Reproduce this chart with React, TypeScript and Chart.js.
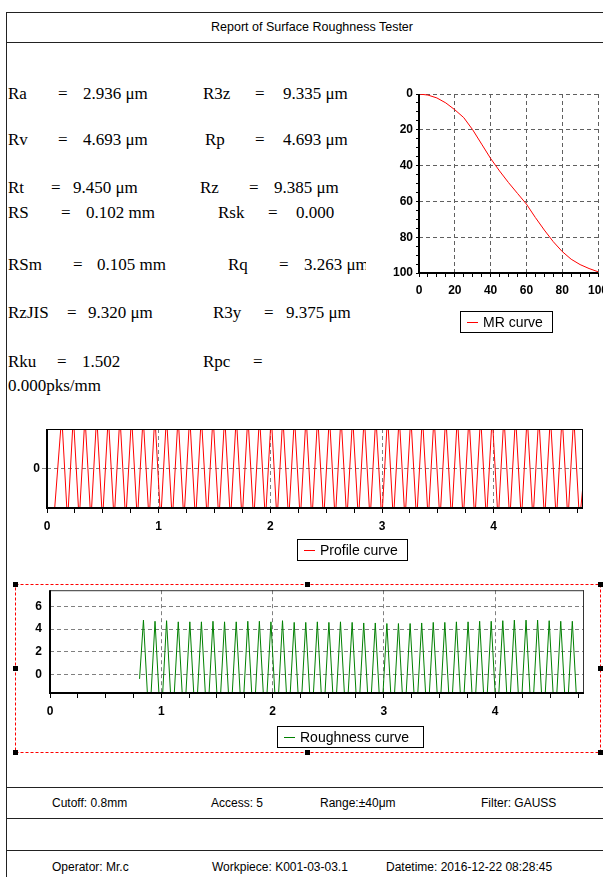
import React, { useEffect, useRef } from "react";
import { Chart, registerables } from "chart.js";

Chart.register(...registerables);
Chart.defaults.font.family = '"Liberation Sans", Arial, sans-serif';

// ---------------- data ----------------
// MR curve: material ratio (%) vs depth (%)
const mrRatio = [0, 5, 10, 15, 20, 25, 30, 35, 40, 45, 50, 55, 60, 65, 70, 75, 80, 85, 90, 95, 100];
const mrDepth = [0, 0.6, 2.2, 5, 8.8, 13.2, 20, 28, 36, 43, 49.5, 55.5, 61.5, 69, 76, 82.5, 88, 92.3, 95.3, 97.5, 99.3];
const mrTicks = [0, 5, 10, 15, 20, 25, 30, 35, 40, 45, 50, 55, 60, 65, 70, 75, 80, 85, 90, 95, 100];
const mrLabels = [0, 20, 40, 60, 80, 100];

// Profile curve (mm, µm) - turning points
const profileX = [0, 0.06, 0.132, 0.184, 0.236, 0.288, 0.340, 0.393, 0.445, 0.497, 0.549, 0.601, 0.653, 0.705, 0.757, 0.809, 0.861, 0.914, 0.966, 1.018, 1.070, 1.122, 1.174, 1.226, 1.278, 1.330, 1.382, 1.435, 1.487, 1.539, 1.591, 1.643, 1.695, 1.747, 1.799, 1.851, 1.903, 1.956, 2.008, 2.060, 2.112, 2.164, 2.216, 2.268, 2.320, 2.372, 2.424, 2.477, 2.529, 2.581, 2.633, 2.685, 2.737, 2.789, 2.841, 2.893, 2.945, 2.998, 3.050, 3.102, 3.154, 3.206, 3.258, 3.310, 3.362, 3.414, 3.466, 3.519, 3.571, 3.623, 3.675, 3.727, 3.779, 3.831, 3.883, 3.935, 3.987, 4.040, 4.092, 4.144, 4.196, 4.248, 4.300, 4.352, 4.404, 4.456, 4.508, 4.561, 4.613, 4.665, 4.717, 4.769, 4.8];
const profileY = [-6.0, -6.0,
  6.00, -6.05, 6.02, -6.00, 5.98, -6.02, 6.05, -6.00, 6.00, -5.98,
  6.02, -6.04, 6.00, -6.00, 5.96, -6.02, 6.04, -6.00, 6.00, -6.02,
  5.98, -6.00, 6.02, -6.05, 6.00, -6.00, 6.05, -5.98, 6.00, -6.02,
  5.98, -6.00, 6.02, -6.04, 6.00, -6.00, 6.04, -6.02, 6.00, -6.00,
  5.96, -5.98, 6.02, -6.02, 6.00, -6.00, 6.05, -6.04, 6.00, -6.00,
  5.98, -6.02, 6.02, -6.00, 6.00, -5.98, 6.04, -6.02, 6.00, -6.00,
  5.98, -6.05, 6.02, -6.00, 6.00, -6.02, 6.05, -6.00, 6.00, -5.98,
  5.96, -6.02, 6.02, -6.00, 6.00, -6.04, 6.04, -6.00, 6.00, -6.02,
  5.98, -6.00, 6.02, -5.98, 6.00, -6.02, 6.05, -6.00, 6.00, -6.02,
  -1.9];

// Roughness curve (mm, µm)
const roughX = [0.805, 0.840, 0.892, 0.944, 0.996, 1.048, 1.100, 1.153, 1.205, 1.257, 1.309, 1.361, 1.413, 1.465, 1.517, 1.569, 1.621, 1.674, 1.726, 1.778, 1.830, 1.882, 1.934, 1.986, 2.038, 2.090, 2.142, 2.195, 2.247, 2.299, 2.351, 2.403, 2.455, 2.507, 2.559, 2.611, 2.663, 2.716, 2.768, 2.820, 2.872, 2.924, 2.976, 3.028, 3.080, 3.132, 3.184, 3.237, 3.289, 3.341, 3.393, 3.445, 3.497, 3.549, 3.601, 3.653, 3.705, 3.758, 3.810, 3.862, 3.914, 3.966, 4.018, 4.070, 4.122, 4.174, 4.226, 4.279, 4.331, 4.383, 4.435, 4.487, 4.539, 4.591, 4.643, 4.695, 4.747];
const roughY = [-0.4,
  4.80, -4.70, 4.70, -4.72, 4.75, -4.70, 4.65, -4.68, 4.65, -4.72,
  4.65, -4.70, 4.70, -4.74, 4.65, -4.70, 4.65, -4.72, 4.70, -4.70,
  4.70, -4.68, 4.65, -4.72, 4.75, -4.70, 4.60, -4.74, 4.60, -4.70,
  4.65, -4.72, 4.60, -4.70, 4.65, -4.68, 4.60, -4.72, 4.55, -4.70,
  4.55, -4.74, 4.50, -4.70, 4.50, -4.72, 4.50, -4.70, 4.55, -4.68,
  4.60, -4.72, 4.60, -4.70, 4.65, -4.74, 4.65, -4.70, 4.70, -4.72,
  4.70, -4.70, 4.75, -4.68, 4.80, -4.72, 4.80, -4.70, 4.80, -4.74,
  4.75, -4.70, 4.70, -4.72, 4.70, -4.70];

const lengthTicks = [0, 0.25, 0.5, 0.75, 1, 1.25, 1.5, 1.75, 2, 2.25, 2.5, 2.75, 3, 3.25, 3.5, 3.75, 4, 4.25, 4.5, 4.75];
const lengthLabels = [0, 1, 2, 3, 4];
const profileYTicks = [0];
const roughYTicks = [0, 2, 4, 6];

// ---------------- plugins ----------------
const framePlugin = {
  id: "frame",
  afterDatasetsDraw(chart: any, _a: any, opts: any) {
    const { ctx, chartArea: a } = chart;
    ctx.save();
    if (opts.topRight) {
      ctx.fillStyle = opts.topRight;
      ctx.fillRect(a.left, a.top, a.right - a.left, 1);
      ctx.fillRect(a.right - 1, a.top, 1, a.bottom - a.top);
    }
    ctx.fillStyle = "#000";
    ctx.fillRect(a.left - 1, a.top, 2, a.bottom - a.top + 1);
    ctx.fillRect(a.left - 1, a.bottom - 1, a.right - a.left + 1, 2);
    ctx.restore();
  },
};

const boxLegendPlugin = {
  id: "boxLegend",
  afterDraw(chart: any, _a: any, opts: any) {
    const { ctx } = chart;
    const ds = chart.data.datasets[0];
    const label = ds.label as string;
    ctx.save();
    ctx.font = '14px "Liberation Sans", Arial, sans-serif';
    const tw = ctx.measureText(label).width;
    const padL = 7, lineLen = 11, gap = 5, padR = 10, h = 22;
    const w = Math.round(padL + lineLen + gap + tw + padR + (opts.extra || 0));
    const x = opts.left, y = opts.top;
    ctx.fillStyle = "#fff";
    ctx.fillRect(x, y, w, h);
    ctx.strokeStyle = "#000";
    ctx.lineWidth = 1;
    ctx.strokeRect(x + 0.5, y + 0.5, w - 1, h - 1);
    ctx.strokeStyle = ds.borderColor;
    ctx.beginPath();
    ctx.moveTo(x + padL, y + h / 2 + 0.5);
    ctx.lineTo(x + padL + lineLen, y + h / 2 + 0.5);
    ctx.stroke();
    ctx.fillStyle = "#000";
    ctx.textBaseline = "middle";
    ctx.fillText(label, x + padL + lineLen + gap, y + h / 2 + 1);
    ctx.restore();
  },
};

const tickFont = { family: '"Liberation Sans", Arial, sans-serif', size: 12, weight: "bold" as const };
const GRID = "#808080";
const CLEAR = "rgba(0,0,0,0)";

function pts(xs: number[], ys: number[]) {
  return xs.map((x, i) => ({ x, y: ys[i] }));
}

function lengthAxis(labelPad: number) {
  return {
    type: "linear",
    min: 0,
    max: 4.8,
    afterFit: (s: any) => { s.height = 24; },
    afterBuildTicks: (s: any) => { s.ticks = lengthTicks.map((v) => ({ value: v })); },
    ticks: {
      autoSkip: false, maxRotation: 0, minRotation: 0, padding: labelPad, color: "#000", font: tickFont,
      callback: (v: number) => (lengthLabels.includes(v) ? String(v) : ""),
    },
    grid: {
      color: (c: any) => (c.tick && lengthLabels.includes(c.tick.value) && c.tick.value !== 0 ? GRID : CLEAR),
      tickColor: "#000", tickLength: 5, lineWidth: 1,
    },
    border: { display: false, dash: [4, 3] },
  };
}

function mrConfig(): any {
  return {
    type: "line",
    data: { datasets: [{ label: "MR curve", data: pts(mrRatio, mrDepth), borderColor: "#ff0000", borderWidth: 1, pointRadius: 0, tension: 0, fill: false }] },
    options: {
      animation: false, responsive: false, devicePixelRatio: 1,
      layout: { padding: { top: 18, right: 25, bottom: 39, left: 0 } },
      plugins: { legend: { display: false }, tooltip: { enabled: false }, frame: { topRight: null }, boxLegend: { left: 94, top: 235 } },
      scales: {
        x: {
          type: "linear", min: 0, max: 100,
          afterFit: (s: any) => { s.height = 24; },
          afterBuildTicks: (s: any) => { s.ticks = mrTicks.map((v) => ({ value: v })); },
          ticks: { autoSkip: false, maxRotation: 0, padding: 6, color: "#000", font: tickFont, callback: (v: number) => (mrLabels.includes(v) ? String(v) : "") },
          grid: { color: (c: any) => (c.tick && mrLabels.includes(c.tick.value) ? "#606060" : CLEAR), tickColor: "#000", tickLength: 4 },
          border: { display: false, dash: [4, 3] },
        },
        y: {
          type: "linear", min: 0, max: 100, reverse: true,
          afterFit: (s: any) => { s.width = 53; },
          afterBuildTicks: (s: any) => { s.ticks = mrTicks.map((v) => ({ value: v })); },
          ticks: { autoSkip: false, padding: 3, color: "#000", font: tickFont, callback: (v: number) => (mrLabels.includes(v) ? String(v) : "") },
          grid: { color: (c: any) => (c.tick && mrLabels.includes(c.tick.value) ? "#606060" : CLEAR), tickColor: "#000", tickLength: 3 },
          border: { display: false, dash: [4, 3] },
        },
      },
    },
    plugins: [framePlugin, boxLegendPlugin],
  };
}

function profileConfig(): any {
  return {
    type: "line",
    data: { datasets: [{ label: "Profile curve", data: pts(profileX, profileY), borderColor: "#ff0000", borderWidth: 1, pointRadius: 0, tension: 0, fill: false }] },
    options: {
      animation: false, responsive: false, devicePixelRatio: 1,
      layout: { padding: { top: 14, right: 20, bottom: 43, left: 0 } },
      plugins: { legend: { display: false }, tooltip: { enabled: false }, frame: { topRight: "#000" }, boxLegend: { left: 297, top: 124 } },
      scales: {
        x: lengthAxis(6),
        y: {
          type: "linear", min: -4.5, max: 4.5,
          afterFit: (s: any) => { s.width = 47; },
          afterBuildTicks: (s: any) => { s.ticks = profileYTicks.map((v) => ({ value: v })); },
          ticks: { padding: 2, color: "#000", font: tickFont },
          grid: { color: GRID, tickColor: GRID, tickLength: 5, tickBorderDash: [4, 3] },
          border: { display: false, dash: [4, 3] },
        },
      },
    },
    plugins: [framePlugin, boxLegendPlugin],
  };
}

function roughConfig(): any {
  return {
    type: "line",
    data: { datasets: [{ label: "Roughness curve", data: pts(roughX, roughY), borderColor: "#008000", borderWidth: 1, pointRadius: 0, tension: 0, fill: false }] },
    options: {
      animation: false, responsive: false, devicePixelRatio: 1,
      layout: { padding: { top: 14, right: 19, bottom: 48, left: 0 } },
      plugins: { legend: { display: false }, tooltip: { enabled: false }, frame: { topRight: "#333" }, boxLegend: { left: 277, top: 151, extra: 5 } },
      scales: {
        x: lengthAxis(6),
        y: {
          type: "linear", min: -1.65, max: 7.45,
          afterFit: (s: any) => { s.width = 50; },
          afterBuildTicks: (s: any) => { s.ticks = roughYTicks.map((v) => ({ value: v })); },
          ticks: { padding: 8, color: "#000", font: tickFont },
          grid: { color: GRID, drawTicks: false },
          border: { display: false, dash: [4, 3] },
        },
      },
    },
    plugins: [framePlugin, boxLegendPlugin],
  };
}

function ChartBox(props: { left: number; top: number; width: number; height: number; make: () => any; bg?: string }) {
  const ref = useRef<HTMLCanvasElement | null>(null);
  useEffect(() => {
    const chart = new Chart(ref.current as HTMLCanvasElement, props.make());
    return () => chart.destroy();
  }, []);
  return (
    <canvas
      ref={ref}
      width={props.width}
      height={props.height}
      style={{ position: "absolute", left: props.left, top: props.top, width: props.width, height: props.height, background: props.bg || "transparent" }}
    />
  );
}

// ---------------- report text ----------------
type Piece = [string, number];
const paramRows: { y: number; items: Piece[] }[] = [
  { y: 94, items: [["Ra", 8], ["=", 58], ["2.936 μm", 83], ["R3z", 203], ["=", 255], ["9.335 μm", 283]] },
  { y: 140, items: [["Rv", 8], ["=", 58], ["4.693 μm", 83], ["Rp", 205], ["=", 255], ["4.693 μm", 283]] },
  { y: 188, items: [["Rt", 8], ["=", 51], ["9.450 μm", 73], ["Rz", 200], ["=", 249], ["9.385 μm", 274]] },
  { y: 213, items: [["RS", 8], ["=", 61], ["0.102 mm", 86], ["Rsk", 218], ["=", 268], ["0.000", 296]] },
  { y: 265, items: [["RSm", 8], ["=", 73], ["0.105 mm", 97], ["Rq", 228], ["=", 279], ["3.263 μm", 304]] },
  { y: 313, items: [["RzJIS", 8], ["=", 67], ["9.320 μm", 88], ["R3y", 213], ["=", 264], ["9.375 μm", 286]] },
  { y: 362, items: [["Rku", 8], ["=", 57], ["1.502", 82], ["Rpc", 203], ["=", 253]] },
  { y: 386, items: [["0.000pks/mm", 8]] },
];

const footerRows: { y: number; items: Piece[] }[] = [
  { y: 803, items: [["Cutoff: 0.8mm", 52], ["Access: 5", 211], ["Range:±40μm", 320], ["Filter: GAUSS", 481]] },
  { y: 867, items: [["Operator: Mr.c", 52], ["Workpiece: K001-03-03.1", 212], ["Datetime: 2016-12-22 08:28:45", 386]] },
];

const hLines = [12, 42, 787, 818, 850];
const handles: [number, number][] = [
  [15.5, 584.5], [307.5, 584.5], [600.5, 584.5],
  [15.5, 668.5], [600.5, 668.5],
  [15.5, 752.5], [307.5, 752.5], [600.5, 752.5],
];

export default function App() {
  const serif = '"Liberation Serif", "Times New Roman", serif';
  const sans = '"Liberation Sans", Arial, sans-serif';
  return (
    <div style={{ position: "absolute", left: 0, top: 0, width: 603, height: 877, overflow: "hidden", background: "#fff" }}>
      <div style={{ position: "absolute", left: 6, top: 27 - 8, width: 612, textAlign: "center", font: `12.5px ${sans}`, lineHeight: "16px", color: "#000" }}>
        Report of Surface Roughness Tester
      </div>
      {paramRows.map((r, i) =>
        r.items.map(([t, x], j) => (
          <span key={`p${i}-${j}`} style={{ position: "absolute", left: x, top: r.y - 11, font: `17px ${serif}`, lineHeight: "22px", whiteSpace: "pre", color: "#000" }}>
            {t}
          </span>
        ))
      )}
      {footerRows.map((r, i) =>
        r.items.map(([t, x], j) => (
          <span key={`f${i}-${j}`} style={{ position: "absolute", left: x, top: r.y - 8, font: `12px ${sans}`, lineHeight: "16px", whiteSpace: "pre", color: "#000" }}>
            {t}
          </span>
        ))
      )}
      <ChartBox left={366} top={76} width={257} height={260} make={mrConfig} bg="#fff" />
      <ChartBox left={0} top={415} width={603} height={160} make={profileConfig} />
      <ChartBox left={0} top={575} width={603} height={190} make={roughConfig} />
      <svg width={603} height={877} style={{ position: "absolute", left: 0, top: 0, pointerEvents: "none" }}>
        <line x1={6.5} y1={12} x2={6.5} y2={877} stroke="#222" strokeWidth={1} />
        {hLines.map((y) => (
          <line key={y} x1={6} y1={y + 0.5} x2={603} y2={y + 0.5} stroke="#222" strokeWidth={1} />
        ))}
        <rect x={15.5} y={584.5} width={585} height={168} fill="none" stroke="#ff0000" strokeWidth={1} strokeDasharray="3 2" />
        {handles.map(([x, y], i) => (
          <rect key={i} x={x - 2.5} y={y - 2.5} width={5} height={5} fill="#000" />
        ))}
      </svg>
    </div>
  );
}
